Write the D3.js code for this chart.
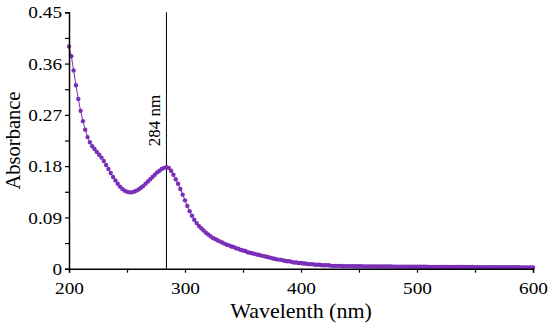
<!DOCTYPE html>
<html>
<head>
<meta charset="utf-8">
<script src="https://cdn.jsdelivr.net/npm/d3@7"></script>
<style>
  html, body { margin: 0; padding: 0; background: #fff; }
  svg { display: block; }
  svg text { font-family: "Liberation Serif", "DejaVu Serif", serif !important; fill: #000; }
</style>
</head>
<body>
<svg id="chart" width="550" height="328"></svg>
<script>
// Sample grid (nm), 2 nm step
const wavelengthStart = 200;
const wavelengthStep = 2;
// Absorbance, 200..600 nm every 2 nm
const absorbance = [
  0.390, 0.373, 0.348, 0.322, 0.298, 0.277, 0.259, 0.244, 0.231, 0.222, // 200-218
  0.215, 0.210, 0.205, 0.200, 0.195, 0.189, 0.182, 0.175, 0.168, 0.161, // 220-238
  0.155, 0.149, 0.144, 0.140, 0.137, 0.135, 0.134, 0.134, 0.135, 0.137, // 240-258
  0.139, 0.142, 0.145, 0.149, 0.153, 0.157, 0.161, 0.165, 0.169, 0.172, // 260-278
  0.175, 0.177, 0.178, 0.177, 0.172, 0.165, 0.157, 0.149, 0.140, 0.130, // 280-298
  0.120, 0.110, 0.101, 0.093, 0.086, 0.080, 0.075, 0.071, 0.067, 0.063, // 300-318
  0.060, 0.057, 0.054, 0.052, 0.050, 0.048, 0.046, 0.044, 0.042, 0.041, // 320-338
  0.039, 0.038, 0.036, 0.035, 0.033, 0.032, 0.031, 0.029, 0.028, 0.027, // 340-358
  0.026, 0.025, 0.024, 0.023, 0.022, 0.021, 0.020, 0.019, 0.018, 0.017, // 360-378
  0.016, 0.016, 0.015, 0.014, 0.013, 0.013, 0.012, 0.011, 0.011, 0.010, // 380-398
  0.010, 0.009, 0.009, 0.008, 0.008, 0.008, 0.007, 0.007, 0.007, 0.006, // 400-418
  0.006, 0.006, 0.006, 0.005, 0.005, 0.005, 0.005, 0.005, 0.0045, 0.0045, // 420-438
  0.0045, 0.0045, 0.0045, 0.0042, 0.0042, 0.0042, 0.0042, 0.004, 0.004, 0.004, // 440-458
  0.004, 0.004, 0.004, 0.004, 0.004, 0.0038, 0.0038, 0.0038, 0.0038, 0.0038, // 460-478
  0.0036, 0.0036, 0.0036, 0.0036, 0.0036, 0.0034, 0.0034, 0.0034, 0.0034, 0.0034, // 480-498
  0.0033, 0.0033, 0.0033, 0.0033, 0.0033, 0.0032, 0.0032, 0.0032, 0.0032, 0.0032, // 500-518
  0.0031, 0.0031, 0.0031, 0.0031, 0.0031, 0.003, 0.003, 0.003, 0.003, 0.003, // 520-538
  0.0029, 0.0029, 0.0029, 0.0029, 0.0029, 0.0028, 0.0028, 0.0028, 0.0028, 0.0028, // 540-558
  0.0027, 0.0027, 0.0027, 0.0027, 0.0027, 0.0026, 0.0026, 0.0026, 0.0026, 0.0026, // 560-578
  0.0025, 0.0025, 0.0025, 0.0025, 0.0025, 0.0024, 0.0024, 0.0024, 0.0024, 0.0024, // 580-598
  0.0023 // 600
];
const xTicks = [200, 250, 300, 350, 400, 450, 500, 550, 600];
const xTickLabels = ["200", "", "300", "", "400", "", "500", "", "600"];
const yTicks = [0, 0.045, 0.09, 0.135, 0.18, 0.225, 0.27, 0.315, 0.36, 0.405, 0.45];
const yTickLabels = ["0", "", "0.09", "", "0.18", "", "0.27", "", "0.36", "", "0.45"];
const peakWavelength = 284;
const peakLabel = "284 nm";
const xTitle = "Wavelenth (nm)";
const yTitle = "Absorbance";

const data = absorbance.map((a, i) => ({ w: wavelengthStart + i * wavelengthStep, a }));

const FONT = "Liberation Serif, DejaVu Serif, serif";
const SX = 1.1; // horizontal stretch of horizontal texts
const svg = d3.select("#chart");
const margin = { left: 69, right: 17, top: 12.3, bottom: 59.3 };
const W = 550, H = 328;
const x = d3.scaleLinear().domain([200, 600]).range([margin.left, W - margin.right]);
const y = d3.scaleLinear().domain([0, 0.45]).range([H - margin.bottom, margin.top]);

const color = "#7B2FB8";

// peak marker line
svg.append("line")
  .attr("x1", x(peakWavelength)).attr("x2", x(peakWavelength))
  .attr("y1", y(0.45)).attr("y2", y(0))
  .attr("stroke", "#000").attr("stroke-width", 1);

svg.append("text")
  .attr("transform", `translate(${x(peakWavelength) - 6},${y(0.26)}) rotate(-90)`)
  .attr("text-anchor", "middle")
  .attr("font-family", FONT)
  .attr("font-size", 17)
  .text(peakLabel);

// series line and markers
svg.append("path")
  .datum(data)
  .attr("fill", "none")
  .attr("stroke", color)
  .attr("stroke-width", 1)
  .attr("d", d3.line().x(d => x(d.w)).y(d => y(d.a)));

svg.append("g").selectAll("circle")
  .data(data).join("circle")
  .attr("cx", d => x(d.w)).attr("cy", d => y(d.a))
  .attr("r", 2.2)
  .attr("fill", color);

// axes
const xAxis = d3.axisBottom(x).tickValues(xTicks)
  .tickFormat((d, i) => xTickLabels[i]).tickSizeOuter(0).tickSize(4).tickPadding(9);
const gx = svg.append("g").attr("transform", `translate(0,${y(0)})`).call(xAxis)
  .attr("font-family", FONT).attr("font-size", 17.5);
gx.select(".domain").attr("stroke", "#000").attr("stroke-width", 1.5);
gx.selectAll(".tick line").attr("stroke", "#000").attr("stroke-width", 1.2);
gx.selectAll("text").attr("fill", "#000").attr("transform", `scale(${SX},1)`);

const yAxis = d3.axisLeft(y).tickValues(yTicks)
  .tickFormat((d, i) => yTickLabels[i]).tickSizeOuter(0).tickSize(4).tickPadding(4);
const gy = svg.append("g").attr("transform", `translate(${x(200)},0)`).call(yAxis)
  .attr("font-family", FONT).attr("font-size", 17.5);
gy.select(".domain").attr("stroke", "#000").attr("stroke-width", 1.5);
gy.selectAll(".tick line").attr("stroke", "#000").attr("stroke-width", 1.2);
gy.selectAll("text").attr("fill", "#000").attr("x", -7 / SX).attr("transform", `scale(${SX},1)`);

// titles
svg.append("text")
  .attr("transform", `translate(${(x(200) + x(600)) / 2},318) scale(${SX},1)`)
  .attr("text-anchor", "middle").attr("font-size", 20)
  .attr("font-family", FONT)
  .text(xTitle);

svg.append("text")
  .attr("transform", `translate(20,${(y(0) + y(0.45)) / 2}) rotate(-90)`)
  .attr("text-anchor", "middle").attr("font-size", 20.5)
  .attr("font-family", FONT)
  .text(yTitle);
</script>
</body>
</html>
